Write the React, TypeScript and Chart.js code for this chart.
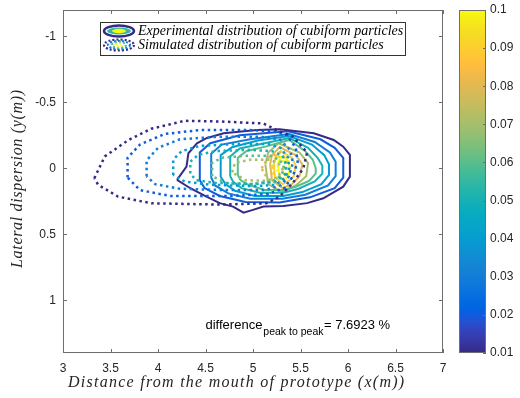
import React, { useEffect, useRef } from 'react';
import { Chart, registerables } from 'chart.js';

Chart.register(...registerables);

type Pt = [number, number];

// ---------------- data ----------------
const contourLevels = [0.01, 0.02, 0.03, 0.04, 0.05, 0.06, 0.07, 0.08, 0.09, 0.1];

const expC01: Pt[] = [[4.2, 0.088], [4.3, -0.013], [4.32, -0.114], [4.41, -0.19], [4.51, -0.228], [4.69, -0.266], [5.04, -0.291], [5.28, -0.296], [5.64, -0.266], [5.85, -0.215], [5.95, -0.164], [6.02, -0.102], [6.02, 0.063], [5.95, 0.139], [5.74, 0.227], [5.57, 0.264], [5.32, 0.285], [5.11, 0.29], [5.0, 0.315], [4.9, 0.336], [4.79, 0.29], [4.65, 0.264], [4.51, 0.214], [4.34, 0.151]];
const expC02: Pt[] = [[4.44, 0.09], [4.44, -0.12], [4.55, -0.19], [4.86, -0.25], [5.37, -0.28], [5.71, -0.22], [5.86, -0.155], [5.95, -0.08], [5.95, 0.07], [5.86, 0.15], [5.6, 0.22], [5.28, 0.26], [4.92, 0.255], [4.65, 0.21], [4.49, 0.15]];
const expC03: Pt[] = [[4.56, 0.07], [4.56, -0.11], [4.67, -0.18], [4.97, -0.22], [5.38, -0.26], [5.65, -0.2], [5.81, -0.12], [5.87, -0.05], [5.87, 0.06], [5.79, 0.13], [5.55, 0.2], [5.31, 0.23], [4.97, 0.23], [4.74, 0.19], [4.6, 0.13]];
const expC04: Pt[] = [[4.66, 0.065], [4.66, -0.1], [4.78, -0.16], [5.05, -0.21], [5.38, -0.245], [5.62, -0.18], [5.75, -0.1], [5.8, -0.03], [5.8, 0.05], [5.72, 0.12], [5.52, 0.18], [5.32, 0.21], [5.02, 0.21], [4.81, 0.17], [4.71, 0.12]];
const expC05: Pt[] = [[4.76, 0.06], [4.76, -0.09], [4.86, -0.15], [5.12, -0.19], [5.38, -0.23], [5.58, -0.155], [5.68, -0.08], [5.73, -0.02], [5.73, 0.04], [5.65, 0.1], [5.48, 0.155], [5.32, 0.185], [5.07, 0.185], [4.88, 0.15], [4.79, 0.1]];
const expC06: Pt[] = [[4.84, 0.05], [4.84, -0.08], [4.93, -0.13], [5.16, -0.17], [5.38, -0.215], [5.55, -0.13], [5.63, -0.065], [5.66, 0.0], [5.66, 0.04], [5.59, 0.095], [5.45, 0.14], [5.32, 0.165], [5.12, 0.165], [4.95, 0.125], [4.87, 0.09]];
const expC07: Pt[] = [[5.13, -0.03], [5.16, -0.12], [5.27, -0.19], [5.49, -0.12], [5.58, -0.04], [5.56, 0.06], [5.45, 0.13], [5.31, 0.18], [5.16, 0.12]];
const expC08: Pt[] = [[5.18, -0.03], [5.2, -0.1], [5.28, -0.16], [5.45, -0.1], [5.52, -0.03], [5.49, 0.06], [5.41, 0.12], [5.31, 0.15], [5.2, 0.09]];
const expC09: Pt[] = [[5.22, -0.03], [5.24, -0.09], [5.29, -0.13], [5.41, -0.08], [5.45, -0.02], [5.43, 0.06], [5.37, 0.1], [5.31, 0.12], [5.23, 0.065]];
const expC10: Pt[] = [[5.26, -0.03], [5.28, -0.07], [5.32, -0.095], [5.37, -0.055], [5.39, 0.0], [5.37, 0.06], [5.33, 0.09], [5.28, 0.065]];

const simC01: Pt[] = [[3.33, 0.075], [3.44, -0.09], [3.69, -0.215], [3.93, -0.3], [4.28, -0.36], [4.65, -0.355], [5.11, -0.34], [5.28, -0.28], [5.42, -0.24], [5.57, -0.12], [5.53, 0.0], [5.42, 0.11], [5.28, 0.215], [5.14, 0.265], [4.65, 0.275], [4.28, 0.27], [3.93, 0.265], [3.58, 0.215], [3.37, 0.125]];
const simC02: Pt[] = [[3.68, 0.07], [3.68, -0.08], [3.81, -0.18], [4.07, -0.26], [4.44, -0.29], [4.97, -0.29], [5.23, -0.28], [5.36, -0.25], [5.45, -0.155], [5.47, -0.05], [5.42, 0.06], [5.33, 0.15], [5.16, 0.195], [4.76, 0.21], [4.13, 0.21], [3.81, 0.165]];
const simC03: Pt[] = [[3.88, 0.06], [3.88, -0.06], [4.0, -0.155], [4.23, -0.22], [4.65, -0.24], [5.07, -0.24], [5.28, -0.22], [5.39, -0.14], [5.42, -0.04], [5.38, 0.06], [5.29, 0.13], [5.13, 0.165], [4.71, 0.165], [4.23, 0.155], [3.97, 0.12]];
const simC04: Pt[] = [[4.16, 0.05], [4.16, -0.065], [4.25, -0.13], [4.44, -0.17], [4.86, -0.185], [5.16, -0.185], [5.29, -0.155], [5.37, -0.08], [5.38, 0.0], [5.34, 0.07], [5.24, 0.125], [5.02, 0.135], [4.55, 0.125], [4.28, 0.1]];
const simC05: Pt[] = [[4.34, 0.04], [4.34, -0.05], [4.42, -0.1], [4.6, -0.13], [4.97, -0.14], [5.2, -0.13], [5.31, -0.095], [5.35, -0.025], [5.33, 0.05], [5.24, 0.1], [5.02, 0.12], [4.6, 0.11], [4.4, 0.09]];
const simC06: Pt[] = [[4.57, 0.06], [4.57, -0.04], [4.67, -0.08], [4.92, -0.095], [5.18, -0.095], [5.28, -0.065], [5.33, 0.0], [5.29, 0.06], [5.2, 0.1], [4.97, 0.12], [4.71, 0.11]];
const simC07: Pt[] = [[4.78, 0.03], [4.81, -0.04], [4.97, -0.065], [5.18, -0.065], [5.27, -0.035], [5.31, 0.01], [5.26, 0.07], [5.13, 0.095], [4.92, 0.09]];
const simC08: Pt[] = [[5.09, 0.0], [5.16, -0.08], [5.28, -0.12], [5.35, -0.065], [5.35, 0.05], [5.28, 0.12], [5.16, 0.09]];
const simC09: Pt[] = [[5.2, -0.01], [5.24, -0.08], [5.31, -0.1], [5.35, -0.04], [5.34, 0.05], [5.28, 0.09], [5.22, 0.06]];
const simC10: Pt[] = [[5.26, -0.02], [5.29, -0.08], [5.32, -0.065], [5.32, 0.03], [5.29, 0.065], [5.26, 0.035]];

const experimentalContours = [expC01, expC02, expC03, expC04, expC05, expC06, expC07, expC08, expC09, expC10];
const simulatedContours = [simC01, simC02, simC03, simC04, simC05, simC06, simC07, simC08, simC09, simC10];

const xTicks = [3, 3.5, 4, 4.5, 5, 5.5, 6, 6.5, 7];
const yTicks = [-1, -0.5, 0, 0.5, 1];
const colorbarTicks = [0.01, 0.02, 0.03, 0.04, 0.05, 0.06, 0.07, 0.08, 0.09, 0.1];

const xTitle = 'Distance from the mouth of prototype (x(m))';
const yTitle = 'Lateral dispersion (y(m))';
const legendLabels = ['Experimental distribution of cubiform particles', 'Simulated distribution of cubiform particles'];
const annotationMain = 'difference';
const annotationSub = 'peak to peak';
const annotationValue = '= 7.6923 %';

// ---------------- style ----------------
const PARULA: number[][] = [
  [0.2081, 0.1663, 0.5292], [0.2116, 0.1898, 0.5777], [0.2123, 0.2138, 0.627], [0.2081, 0.2386, 0.6771],
  [0.1959, 0.2645, 0.7279], [0.1707, 0.2919, 0.7792], [0.1253, 0.3242, 0.8303], [0.0591, 0.3598, 0.8683],
  [0.0117, 0.3875, 0.882], [0.006, 0.4086, 0.8828], [0.0165, 0.4266, 0.8786], [0.0329, 0.443, 0.872],
  [0.0498, 0.4586, 0.8641], [0.0629, 0.4737, 0.8554], [0.0723, 0.4887, 0.8467], [0.0779, 0.504, 0.8384],
  [0.0793, 0.52, 0.8312], [0.0749, 0.5375, 0.8263], [0.0641, 0.557, 0.824], [0.0488, 0.5772, 0.8228],
  [0.0343, 0.5966, 0.8199], [0.0265, 0.6137, 0.8135], [0.0239, 0.6287, 0.8038], [0.0231, 0.6418, 0.7913],
  [0.0228, 0.6535, 0.7768], [0.0267, 0.6642, 0.7607], [0.0384, 0.6743, 0.7436], [0.059, 0.6838, 0.7254],
  [0.0843, 0.6928, 0.7062], [0.1133, 0.7015, 0.6859], [0.1453, 0.7098, 0.6646], [0.1801, 0.7177, 0.6424],
  [0.2178, 0.725, 0.6193], [0.2586, 0.7317, 0.5954], [0.3022, 0.7376, 0.5712], [0.3482, 0.7424, 0.5473],
  [0.3953, 0.7459, 0.5244], [0.442, 0.7481, 0.5033], [0.4871, 0.7491, 0.484], [0.53, 0.7491, 0.4661],
  [0.5709, 0.7485, 0.4494], [0.6099, 0.7473, 0.4337], [0.6473, 0.7456, 0.4188], [0.6834, 0.7435, 0.4044],
  [0.7184, 0.7411, 0.3905], [0.7525, 0.7384, 0.3768], [0.7858, 0.7356, 0.3633], [0.8185, 0.7327, 0.3498],
  [0.8507, 0.7299, 0.336], [0.8824, 0.7274, 0.3217], [0.9139, 0.7258, 0.3063], [0.945, 0.7261, 0.2886],
  [0.9739, 0.7314, 0.2666], [0.9938, 0.7455, 0.2403], [0.999, 0.7653, 0.2164], [0.9955, 0.7861, 0.1967],
  [0.988, 0.8066, 0.1794], [0.9789, 0.8271, 0.1633], [0.9697, 0.8481, 0.1475], [0.9626, 0.8705, 0.1309],
  [0.9589, 0.8949, 0.1132], [0.9598, 0.9218, 0.0948], [0.9661, 0.9514, 0.0755], [0.9763, 0.9831, 0.0538],
];
const CMIN = 0.01;
const CMAX = 0.1;

function parula(t: number): string {
  const tt = Math.min(1, Math.max(0, t)) * (PARULA.length - 1);
  const i = Math.floor(tt);
  const j = Math.min(PARULA.length - 1, i + 1);
  const f = tt - i;
  const c = PARULA[i].map((v, k) => Math.round((v + (PARULA[j][k] - v) * f) * 255));
  return `rgb(${c[0]},${c[1]},${c[2]})`;
}
const levelColor = (lv: number) => parula((lv - CMIN) / (CMAX - CMIN));

const TICK_FONT = { family: '"Liberation Sans", Arial, Helvetica, sans-serif', size: 12 };
const TEXT_COLOR = '#262626';
const AXIS_COLOR = '#6e6e6e';
const SERIF_IT = '"Liberation Serif", "DejaVu Serif", serif';

function fitText(ctx: CanvasRenderingContext2D, text: string, targetWidth: number) {
  (ctx as any).letterSpacing = '0px';
  const w = ctx.measureText(text).width;
  const sp = (targetWidth - w) / Math.max(1, text.length - 1);
  (ctx as any).letterSpacing = `${sp.toFixed(2)}px`;
}

function drawLegendIcon(ctx: CanvasRenderingContext2D, cx: number, cy: number, dotted: boolean) {
  ctx.save();
  if (!dotted) {
    ctx.beginPath();
    ctx.ellipse(cx, cy, 15, 5.5, 0, 0, Math.PI * 2);
    ctx.lineWidth = 2.5;
    ctx.strokeStyle = levelColor(0.01);
    ctx.stroke();
    ctx.beginPath();
    ctx.ellipse(cx, cy, 12, 3.6, 0, 0, Math.PI * 2);
    ctx.fillStyle = levelColor(0.055);
    ctx.fill();
    ctx.beginPath();
    ctx.ellipse(cx, cy, 7, 2.2, 0, 0, Math.PI * 2);
    ctx.fillStyle = levelColor(0.1);
    ctx.fill();
  } else {
    const rings: [number, number, number][] = [[15, 5.5, 0.01], [11, 4, 0.03], [7, 2.8, 0.06], [3.5, 1.5, 0.1]];
    ctx.setLineDash([2, 2]);
    ctx.lineWidth = 2.2;
    for (const [rx, ry, lv] of rings) {
      ctx.beginPath();
      ctx.ellipse(cx, cy, rx, ry, 0, 0, Math.PI * 2);
      ctx.strokeStyle = levelColor(lv);
      ctx.stroke();
    }
  }
  ctx.restore();
}

const mainDecor = {
  id: 'mainDecor',
  afterDraw(chart: any) {
    const ctx: CanvasRenderingContext2D = chart.ctx;
    const a = chart.chartArea;
    const xs = chart.scales.x;
    const ys = chart.scales.y;
    ctx.save();
    // box
    ctx.strokeStyle = AXIS_COLOR;
    ctx.lineWidth = 1;
    ctx.strokeRect(a.left + 0.5, a.top + 0.5, a.right - a.left - 1, a.bottom - a.top - 1);
    // inward ticks
    ctx.beginPath();
    for (const v of xTicks) {
      const px = Math.round(xs.getPixelForValue(v)) + 0.5;
      ctx.moveTo(px, a.bottom); ctx.lineTo(px, a.bottom - 4);
      ctx.moveTo(px, a.top); ctx.lineTo(px, a.top + 4);
    }
    for (const v of yTicks) {
      const py = Math.round(ys.getPixelForValue(v)) + 0.5;
      ctx.moveTo(a.left, py); ctx.lineTo(a.left + 4, py);
      ctx.moveTo(a.right, py); ctx.lineTo(a.right - 4, py);
    }
    ctx.stroke();

    // axis titles
    ctx.fillStyle = TEXT_COLOR;
    ctx.font = `italic 16px ${SERIF_IT}`;
    ctx.textAlign = 'left';
    ctx.textBaseline = 'middle';
    fitText(ctx, xTitle, 336);
    ctx.fillText(xTitle, 68, a.bottom + 30);
    ctx.save();
    ctx.translate(18, 268);
    ctx.rotate(-Math.PI / 2);
    fitText(ctx, yTitle, 178);
    ctx.fillText(yTitle, 0, 0);
    ctx.restore();
    (ctx as any).letterSpacing = '0px';

    // annotation
    ctx.textAlign = 'left';
    ctx.textBaseline = 'alphabetic';
    ctx.fillStyle = '#000';
    let tx = xs.getPixelForValue(4.5);
    const ty = ys.getPixelForValue(1.22);
    ctx.font = `13px ${TICK_FONT.family}`;
    ctx.fillText(annotationMain, tx, ty);
    tx += ctx.measureText(annotationMain).width + 1;
    ctx.font = `10.5px ${TICK_FONT.family}`;
    ctx.fillText(annotationSub, tx, ty + 5.5);
    tx += ctx.measureText(annotationSub).width + 0.5;
    ctx.font = `13px ${TICK_FONT.family}`;
    ctx.fillText(annotationValue, tx, ty);

    // legend
    const lx = 100, ly = 22, lw = 305, lh = 33;
    ctx.fillStyle = '#fff';
    ctx.fillRect(lx, ly, lw, lh);
    ctx.strokeStyle = '#333';
    ctx.lineWidth = 1;
    ctx.strokeRect(lx + 0.5, ly + 0.5, lw, lh);
    drawLegendIcon(ctx, 119, 31, false);
    drawLegendIcon(ctx, 119, 45, true);
    ctx.fillStyle = '#000';
    ctx.font = `italic 14px ${SERIF_IT}`;
    ctx.textBaseline = 'middle';
    ctx.fillText(legendLabels[0], 138, 31);
    ctx.fillText(legendLabels[1], 138, 45);
    ctx.restore();
  },
};

const colorbarDecor = {
  id: 'colorbarDecor',
  afterDraw(chart: any) {
    const ctx: CanvasRenderingContext2D = chart.ctx;
    const a = chart.chartArea;
    const ys = chart.scales.y;
    ctx.save();
    ctx.strokeStyle = AXIS_COLOR;
    ctx.lineWidth = 1;
    ctx.strokeRect(a.left + 0.5, a.top + 0.5, a.right - a.left - 1, a.bottom - a.top - 1);
    ctx.beginPath();
    for (const v of colorbarTicks) {
      const py = Math.round(ys.getPixelForValue(v)) + 0.5;
      ctx.moveTo(a.right, py); ctx.lineTo(a.right - 3, py);
    }
    ctx.stroke();
    ctx.restore();
  },
};

function toXY(pts: Pt[]) {
  const out = pts.map(([x, y]) => ({ x, y }));
  out.push({ x: pts[0][0], y: pts[0][1] });
  return out;
}

const noScalePadding = (s: any) => {
  s.paddingTop = 0;
  s.paddingBottom = 0;
};

export default function App() {
  const mainRef = useRef<HTMLCanvasElement | null>(null);
  const cbRef = useRef<HTMLCanvasElement | null>(null);

  useEffect(() => {
    document.body.style.margin = '0';
    const datasets: any[] = [];
    simulatedContours.forEach((pts, i) => {
      datasets.push({
        label: `sim ${contourLevels[i]}`,
        data: toXY(pts),
        showLine: true,
        pointRadius: 0,
        borderColor: levelColor(contourLevels[i]),
        borderWidth: 2.5,
        borderDash: [2.5, 3.5],
        borderCapStyle: 'butt',
        tension: 0,
        fill: false,
        order: 0,
      });
    });
    experimentalContours.forEach((pts, i) => {
      datasets.push({
        label: `exp ${contourLevels[i]}`,
        data: toXY(pts),
        showLine: true,
        pointRadius: 0,
        borderColor: levelColor(contourLevels[i]),
        borderWidth: 2,
        tension: 0,
        fill: false,
        order: 1,
      });
    });

    const main = new Chart(mainRef.current as HTMLCanvasElement, {
      type: 'scatter',
      data: { datasets },
      options: {
        responsive: false,
        animation: false,
        layout: { padding: { left: 0, right: 77, top: 10, bottom: 0 } },
        plugins: { legend: { display: false }, tooltip: { enabled: false } },
        scales: {
          x: {
            type: 'linear',
            min: 3,
            max: 7,
            afterBuildTicks: (s: any) => { s.ticks = xTicks.map((v) => ({ value: v })); },
            afterFit: (s: any) => { s.height = 45; },
            ticks: { callback: (v: any) => String(v), font: TICK_FONT, color: TEXT_COLOR, padding: 8, maxRotation: 0, autoSkip: false },
            grid: { display: false, drawTicks: false },
            border: { display: false },
          },
          y: {
            type: 'linear',
            reverse: true,
            min: -1.2,
            max: 1.4,
            afterBuildTicks: (s: any) => { s.ticks = yTicks.map((v) => ({ value: v })); },
            afterFit: (s: any) => { s.width = 63; noScalePadding(s); },
            ticks: { callback: (v: any) => String(v), font: TICK_FONT, color: TEXT_COLOR, padding: 7, autoSkip: false },
            grid: { display: false, drawTicks: false },
            border: { display: false },
          },
        },
      } as any,
      plugins: [mainDecor],
    });

    const cb = new Chart(cbRef.current as HTMLCanvasElement, {
      type: 'bar',
      data: {
        labels: [''],
        datasets: [{
          data: [[CMIN, CMAX]] as any,
          backgroundColor: (c: any) => {
            const area = c.chart.chartArea;
            if (!area) return levelColor(0.05);
            const g = c.chart.ctx.createLinearGradient(0, area.bottom, 0, area.top);
            PARULA.forEach((_, i) => g.addColorStop(i / (PARULA.length - 1), parula(i / (PARULA.length - 1))));
            return g;
          },
          borderWidth: 0,
          barPercentage: 1,
          categoryPercentage: 1,
        }],
      },
      options: {
        responsive: false,
        animation: false,
        layout: { padding: { left: 19, right: 0, top: 10, bottom: 45 } },
        plugins: { legend: { display: false }, tooltip: { enabled: false } },
        scales: {
          x: { display: false },
          y: {
            position: 'right',
            min: CMIN,
            max: CMAX,
            afterBuildTicks: (s: any) => { s.ticks = colorbarTicks.map((v) => ({ value: v })); },
            afterFit: (s: any) => { s.width = 34; noScalePadding(s); },
            ticks: { callback: (v: any) => String(v), font: TICK_FONT, color: TEXT_COLOR, padding: 4, autoSkip: false },
            grid: { display: false, drawTicks: false },
            border: { display: false },
          },
        },
      } as any,
      plugins: [colorbarDecor],
    });

    return () => {
      main.destroy();
      cb.destroy();
    };
  }, []);

  return (
    <div style={{ position: 'relative', width: 520, height: 398, background: '#fff' }}>
      <canvas ref={mainRef} width={520} height={398} style={{ position: 'absolute', left: 0, top: 0 }} />
      <canvas ref={cbRef} width={80} height={398} style={{ position: 'absolute', left: 440, top: 0 }} />
    </div>
  );
}
